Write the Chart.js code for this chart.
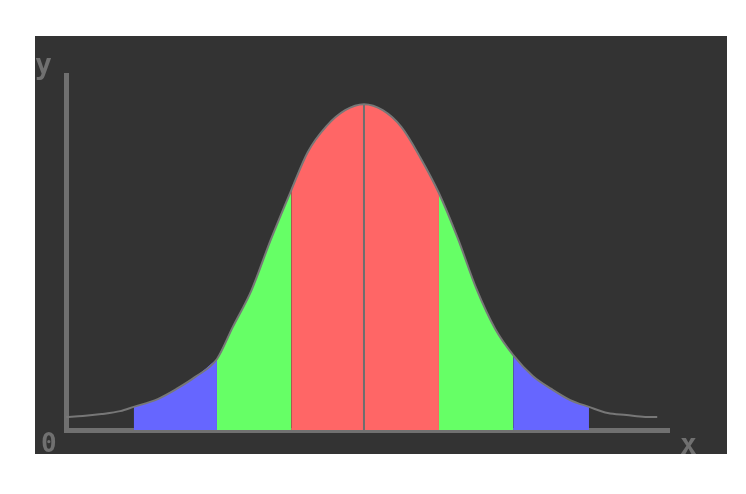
<!DOCTYPE html>
<html>
<head>
<meta charset="utf-8">
<script src="https://cdn.jsdelivr.net/npm/chart.js@4"></script>
<style>
  body { margin:0; background:#fff; }
  #panel { position:absolute; left:35px; top:36px; width:692px; height:418px; background:#333; overflow:hidden; }
  #chart { position:absolute; left:0; top:0; }
  .lbl { position:absolute; font:bold 26px "DejaVu Sans Mono", monospace; line-height:26px; color:#707070; }
  .big { font-size:28px; line-height:28px; }
</style>
</head>
<body>
<div id="panel">
  <canvas id="chart" width="692" height="418"></canvas>
  <span class="lbl big" style="left:0px;top:15px">y</span>
  <span class="lbl" style="left:6px;top:394px">0</span>
  <span class="lbl big" style="left:645px;top:395px">x</span>
</div>
<script>
// curve: x in sigma units, y as % of the peak height
const curveX = [-3.97,-3.75,-3.5,-3.25,-3.07,-2.75,-2.5,-2.25,-1.96,-1.75,-1.5,-1.25,-0.97,-0.75,-0.5,-0.25,0,
                0.25,0.5,0.75,1.0,1.25,1.5,1.75,1.99,2.25,2.5,2.75,3.0,3.25,3.5,3.75,3.91]
const curveY = [4.0,4.3,4.9,5.8,7.1,9.5,12.6,16.3,21.8,31.6,42.9,58.0,73.6,85.3,93.3,98.2,100,
                98.2,93.0,83.7,72.7,58.9,43.3,31.0,23.0,16.6,12.6,9.2,7.1,5.2,4.6,4.0,4.0]

// shaded bands: [from, to] and colour
const bandFrom   = [-3.07, -1.96, -0.97, 1.0, 1.99]
const bandTo     = [-1.96, -0.97, 1.0, 1.99, 3.0]
const bandColors = ['#6666ff', '#66ff66', '#ff6666', '#66ff66', '#6666ff']

const xMin = -3.973, xMax = 4.067
const yMax = 109
const peakX = 0

const points = curveX.map((x, i) => ({ x, y: curveY[i] }))

const bands = bandFrom.map((a, i) => ({
  data: points.filter(p => p.x >= a && p.x <= bandTo[i]),
  backgroundColor: bandColors[i],
  borderWidth: 0,
  pointRadius: 0,
  cubicInterpolationMode: 'monotone',
  fill: 'origin',
  order: 2
}))

new Chart(document.getElementById('chart').getContext('2d'), {
  type: 'line',
  data: { datasets: [
    { data: points, borderColor:'#777', borderWidth:2, pointRadius:0, fill:false, cubicInterpolationMode:'monotone', order:0 },
    { data: [{ x:peakX, y:0 }, { x:peakX, y:curveY[curveX.indexOf(peakX)] }], borderColor:'#6e6e6e', borderWidth:2, pointRadius:0, fill:false, order:1 },
    ...bands
  ]},
  options: {
    responsive:false, animation:false, devicePixelRatio:1,
    layout:{ autoPadding:false, padding:{ left:31, top:39, right:58, bottom:24 } },
    plugins:{ legend:{ display:false }, tooltip:{ enabled:false } },
    scales:{
      x:{ type:'linear', min:xMin, max:xMax, z:1,
          ticks:{ display:false }, grid:{ display:false, drawTicks:false },
          border:{ display:true, color:'#707070', width:5 } },
      y:{ min:0, max:yMax, z:1,
          ticks:{ display:false }, grid:{ display:false, drawTicks:false },
          border:{ display:true, color:'#707070', width:5 } }
    }
  }
})
</script>
</body>
</html>
